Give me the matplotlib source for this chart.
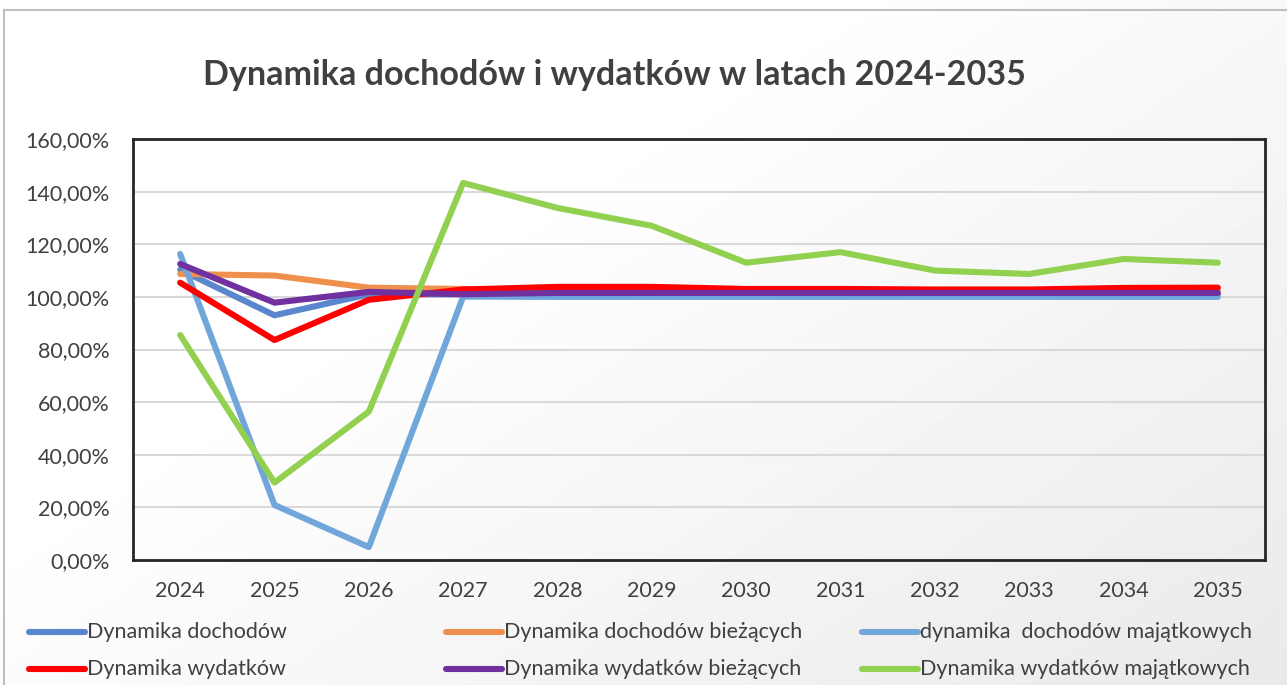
import numpy as np
import matplotlib
matplotlib.use("Agg")
import matplotlib.pyplot as plt
from matplotlib.ticker import FuncFormatter
from matplotlib.patches import Rectangle
from matplotlib.lines import Line2D

years = [2024, 2025, 2026, 2027, 2028, 2029, 2030, 2031, 2032, 2033, 2034, 2035]
dochody = [110.3, 93.0, 101.0, 101.0, 101.3, 101.3, 101.0, 101.0, 101.0, 101.0, 101.0, 101.0]
dochody_biezace = [108.7, 108.1, 103.5, 103.0, 102.3, 102.3, 102.0, 102.0, 102.0, 102.0, 102.0, 102.0]
dochody_majatkowe = [116.3, 20.9, 4.9, 100.1, 100.0, 100.0, 100.0, 100.0, 100.0, 100.0, 100.0, 100.0]
wydatki = [105.4, 83.6, 98.9, 102.8, 103.8, 103.8, 103.0, 103.0, 102.8, 102.8, 103.4, 103.5]
wydatki_biezace = [112.5, 97.8, 101.9, 101.0, 101.5, 101.5, 101.5, 101.5, 101.5, 101.5, 101.5, 101.5]
wydatki_majatkowe = [85.5, 29.4, 56.4, 143.3, 133.8, 127.0, 113.0, 117.0, 110.0, 108.7, 114.4, 113.0]

series = [
    ("Dynamika dochodów", dochody, "#5A86CE"),
    ("Dynamika dochodów bieżących", dochody_biezace, "#F0904F"),
    ("dynamika  dochodów majątkowych", dochody_majatkowe, "#70A6DA"),
    ("Dynamika wydatków", wydatki, "#FF0000"),
    ("Dynamika wydatków bieżących", wydatki_biezace, "#7030A0"),
    ("Dynamika wydatków majątkowych", wydatki_majatkowe, "#92D050"),
]

plt.rcParams['font.family'] = ['Lato', 'DejaVu Sans']

W, H = 1287, 685
fig = plt.figure(figsize=(W / 100, H / 100), dpi=100)

# background gradient (white top-left to light grey bottom-right)
bg = fig.add_axes([0, 0, 1, 1], zorder=-10)
yy, xx = np.mgrid[0:1:200j, 0:1:400j]
t = np.clip((xx * 0.55 + yy * 0.45 - 0.35) / 0.65, 0, 1)
grad = 1.0 - 0.085 * t
bg.imshow(grad, cmap="gray", vmin=0, vmax=1, extent=[0, 1, 0, 1], aspect="auto", origin="upper")
bg.add_patch(Rectangle((4 / W, -0.1), 1.2, 1.1 - 10 / H, transform=bg.transAxes,
                       fill=False, edgecolor="#BFBFBF", linewidth=1.5))
bg.set_xlim(0, 1)
bg.set_ylim(0, 1)
bg.axis("off")

ax = fig.add_axes([133 / W, 1 - 560 / H, (1265 - 133) / W, (560 - 139) / H])
ax.set_facecolor("none")
x = np.arange(len(years))
lines = []
for name, vals, col in series:
    ln, = ax.plot(x, vals, color=col, linewidth=4.4, label=name, solid_capstyle="round",
                  solid_joinstyle="round")
    lines.append(ln)

ax.set_xlim(-0.5, len(years) - 0.5)
ax.set_ylim(0, 160)
ax.set_yticks(np.arange(0, 161, 20))
ax.yaxis.set_major_formatter(FuncFormatter(lambda v, p: f"{v:.2f}%".replace(".", ",")))
ax.set_xticks(x)
ax.set_xticklabels([str(y) for y in years])
ax.tick_params(axis="both", length=0, labelsize=15.5, colors="#404040")
ax.tick_params(axis="x", pad=15)
ax.tick_params(axis="y", pad=17)
ax.grid(axis="y", color="#D9D9D9", linewidth=1.5)
ax.set_axisbelow(True)
for s in ax.spines.values():
    s.set_color("#262626")
    s.set_linewidth(2)

fig.text(614 / W, 1 - 75 / H, "Dynamika dochodów i wydatków w latach 2024-2035",
         ha="center", va="center", fontsize=24.6, fontweight="bold", color="#404040")

# legend laid out as in the reference: 3 columns, row-major
col_x = [29, 446, 862]
row_y = [632, 669]
for i, (ln, (name, vals, col)) in enumerate(zip(lines, series)):
    r, c = divmod(i, 3)
    x0 = col_x[c]
    y0 = 1 - row_y[r] / H
    fig.add_artist(Line2D([x0 / W, (x0 + 56) / W], [y0, y0], color=col, linewidth=4.4,
                          solid_capstyle="round", transform=fig.transFigure))
    fig.text((x0 + 58) / W, y0, name, ha="left", va="center", fontsize=15.5, color="#404040")

fig.savefig("out.png", dpi=100)
